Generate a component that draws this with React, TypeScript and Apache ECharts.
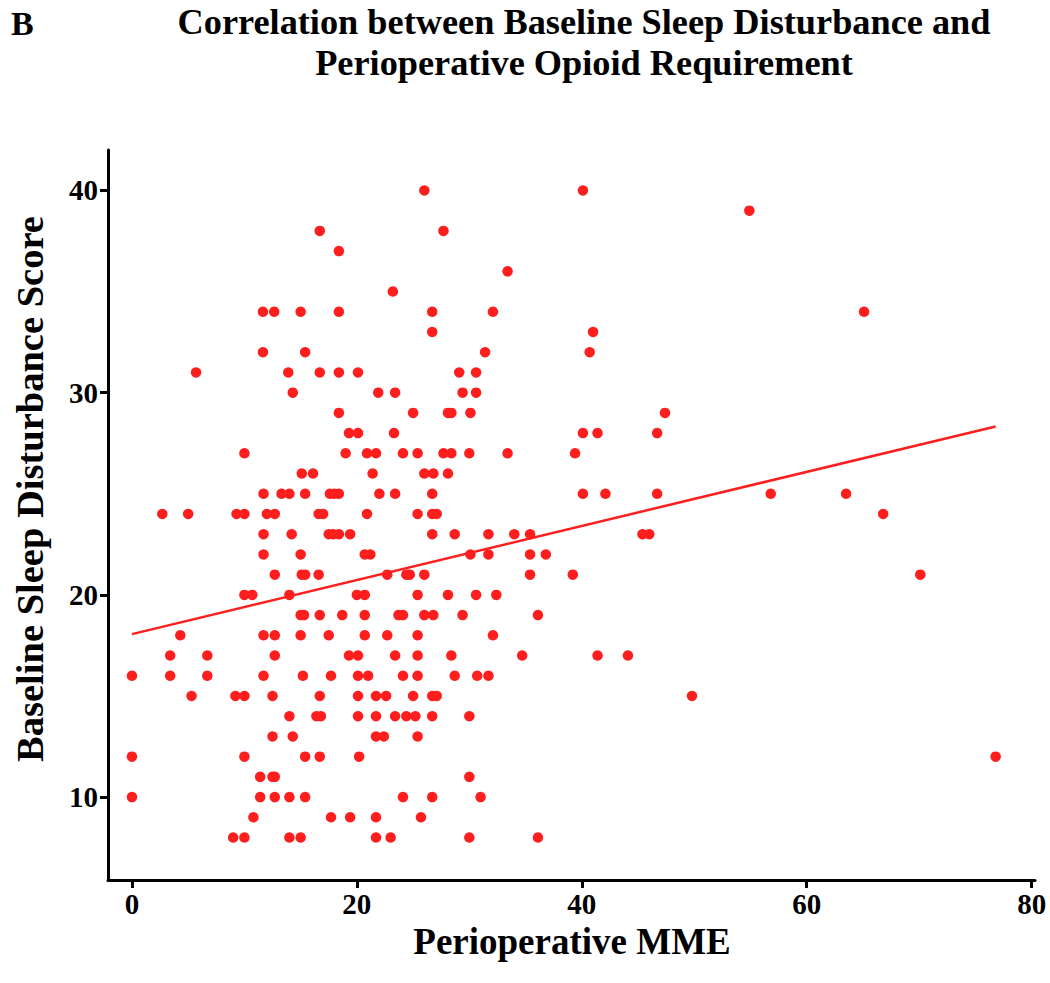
import React, { useEffect, useRef } from "react";
import * as echarts from "echarts";

// Perioperative MME values, one list per Baseline Sleep Disturbance Score
const s40 = [26.0, 40.1];
const s39 = [54.9];
const s38 = [16.7, 27.7];
const s37 = [18.4];
const s36 = [33.4];
const s35 = [23.2];
const s34 = [11.65, 12.65, 15.0, 18.4, 26.7, 32.1, 65.1];
const s33 = [26.7, 41.0];
const s32 = [11.65, 15.4, 31.4, 40.7];
const s31 = [5.7, 13.9, 16.7, 18.4, 20.1, 29.1, 30.6];
const s30 = [14.3, 21.9, 23.4, 29.4, 30.6];
const s29 = [18.4, 25.0, 28.1, 28.4, 30.1, 47.4];
const s28 = [19.3, 20.1, 23.3, 40.1, 41.4, 46.7];
const s27 = [10.0, 19.0, 20.9, 21.7, 24.1, 25.4, 27.7, 28.4, 30.0, 33.4, 39.4];
const s26 = [15.1, 16.1, 21.4, 26.0, 26.8, 28.1];
const s25 = [11.7, 13.3, 14.0, 15.4, 17.6, 18.0, 18.4, 22.0, 23.4, 26.7, 40.1, 42.1, 46.7, 56.8, 63.5];
const s24 = [2.7, 5.0, 9.3, 10.0, 12.0, 12.7, 16.6, 17.0, 20.9, 25.4, 26.7, 27.1, 66.8];
const s23 = [11.7, 14.2, 17.5, 17.9, 18.4, 19.4, 26.7, 28.7, 31.7, 34.0, 35.4, 45.4, 46.0];
const s22 = [11.7, 15.0, 20.7, 21.2, 30.1, 31.7, 35.4, 36.8];
const s21 = [12.7, 15.1, 15.4, 16.6, 22.7, 24.4, 24.7, 26.0, 35.4, 39.2, 70.1];
const s20 = [10.0, 10.7, 14.0, 20.0, 20.7, 25.4, 28.1, 30.6, 32.4];
const s19 = [15.0, 15.3, 16.7, 18.7, 20.7, 23.7, 24.1, 26.0, 26.8, 29.4, 36.1];
const s18 = [4.3, 11.7, 12.7, 15.0, 17.5, 20.7, 22.7, 25.4, 32.1];
const s17 = [3.4, 6.7, 12.7, 19.3, 20.1, 23.4, 25.4, 28.4, 34.7, 41.4, 44.1];
const s16 = [0, 3.4, 6.7, 11.7, 15.2, 17.7, 20.1, 21.0, 24.1, 25.4, 28.7, 30.7, 31.7];
const s15 = [5.3, 9.2, 10.0, 12.5, 16.7, 20.1, 21.7, 22.6, 25.0, 26.7, 27.1, 49.8];
const s14 = [14.0, 16.4, 16.8, 20.1, 21.7, 23.4, 24.4, 25.2, 26.7, 30.0];
const s13 = [12.5, 14.3, 21.7, 22.4, 25.4];
const s12 = [0, 10.0, 15.4, 16.7, 20.2, 76.8];
const s11 = [11.4, 12.5, 12.7, 30.0];
const s10 = [0, 11.4, 12.7, 14.0, 15.4, 24.1, 26.7, 31.0];
const s9 = [10.8, 17.7, 19.4, 21.7, 25.7];
const s8 = [9.0, 10.0, 14.0, 15.0, 21.7, 23.0, 30.0, 36.1];

const scoreRows: [number, number[]][] = [
  [40, s40], [39, s39], [38, s38], [37, s37], [36, s36], [35, s35], [34, s34],
  [33, s33], [32, s32], [31, s31], [30, s30], [29, s29], [28, s28], [27, s27],
  [26, s26], [25, s25], [24, s24], [23, s23], [22, s22], [21, s21], [20, s20],
  [19, s19], [18, s18], [17, s17], [16, s16], [15, s15], [14, s14], [13, s13],
  [12, s12], [11, s11], [10, s10], [9, s9], [8, s8],
];

// Fitted regression line end points [MME, score]
const fitLineX = [0, 76.8];
const fitLineY = [18.06, 28.33];

const xTicks = [0, 20, 40, 60, 80];
const yTicks = [10, 20, 30, 40];

const RED = "#ff1e1e";
const FONT = "'Liberation Serif', 'Times New Roman', serif";

export default function App() {
  const ref = useRef<HTMLDivElement>(null);

  useEffect(() => {
    if (!ref.current) return;
    const chart = echarts.init(ref.current, null, { renderer: "svg" });

    const points: number[][] = [];
    scoreRows.forEach(([score, xs]) => xs.forEach((x) => points.push([x, score])));
    const line = fitLineX.map((x, i) => [x, fitLineY[i]]);

    const axisLabelStyle = {
      fontFamily: FONT,
      fontWeight: "bold" as const,
      fontSize: 29,
      color: "#000",
      lineHeight: 29,
    };

    chart.setOption({
      animation: false,
      backgroundColor: "#fff",
      grid: { left: 108, right: 15, top: 150, bottom: 103, containLabel: false },
      xAxis: {
        type: "value",
        min: -2.13,
        max: 80.3,
        splitLine: { show: false },
        axisLine: { show: true, onZero: false, lineStyle: { color: "#000", width: 3 } },
        axisTick: { show: true, length: 8, lineStyle: { color: "#000", width: 3 }, customValues: xTicks },
        axisLabel: { ...axisLabelStyle, margin: 9, customValues: xTicks },
      },
      yAxis: {
        type: "value",
        min: 5.9,
        max: 42,
        splitLine: { show: false },
        axisLine: { show: true, onZero: false, lineStyle: { color: "#000", width: 3 } },
        axisTick: { show: true, length: 8, lineStyle: { color: "#000", width: 3 }, customValues: yTicks },
        axisLabel: { ...axisLabelStyle, margin: 10, customValues: yTicks },
      },
      series: [
        {
          type: "scatter",
          data: points,
          symbol: "circle",
          symbolSize: 10.5,
          itemStyle: { color: RED, opacity: 1 },
          z: 3,
        },
        {
          type: "line",
          data: line,
          showSymbol: false,
          symbol: "none",
          lineStyle: { color: RED, width: 2.5 },
          z: 2,
        },
      ],
      graphic: [
        {
          type: "text",
          left: 11,
          top: 6,
          style: { text: "B", font: `bold 34px ${FONT}`, fill: "#000" },
        },
        {
          type: "text",
          x: 584,
          y: 22,
          style: {
            text: "Correlation between Baseline Sleep Disturbance and",
            font: `bold 36.3px ${FONT}`,
            fill: "#000",
            align: "center",
            verticalAlign: "middle",
          },
        },
        {
          type: "text",
          x: 584,
          y: 63,
          style: {
            text: "Perioperative Opioid Requirement",
            font: `bold 36.3px ${FONT}`,
            fill: "#000",
            align: "center",
            verticalAlign: "middle",
          },
        },
        {
          type: "text",
          x: 572,
          y: 941,
          style: {
            text: "Perioperative MME",
            font: `bold 37px ${FONT}`,
            lineHeight: 37,
            fill: "#000",
            align: "center",
            verticalAlign: "middle",
          },
        },
        {
          type: "text",
          x: 30,
          y: 489,
          rotation: Math.PI / 2,
          style: {
            text: "Baseline Sleep Disturbance Score",
            font: `bold 38.5px ${FONT}`,
            fill: "#000",
            align: "center",
            verticalAlign: "middle",
          },
        },
      ],
    });

    return () => chart.dispose();
  }, []);

  return (
    <div
      ref={ref}
      style={{ position: "fixed", left: 0, top: 0, width: 1050, height: 983, background: "#fff" }}
    />
  );
}
